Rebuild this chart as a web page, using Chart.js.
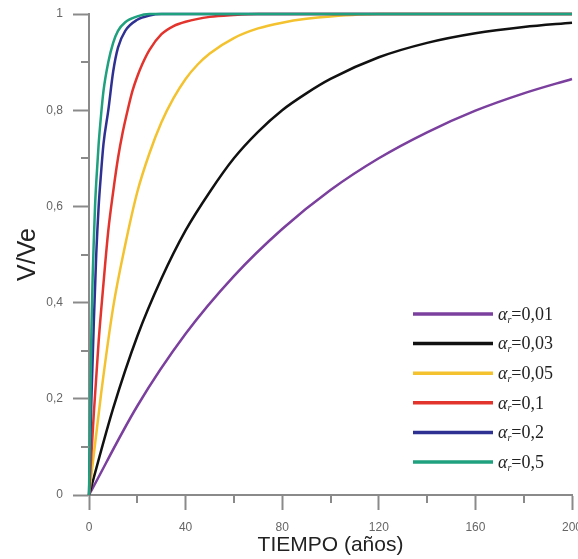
<!DOCTYPE html>
<html>
<head>
<meta charset="utf-8">
<script src="https://cdn.jsdelivr.net/npm/chart.js@4.4.0/dist/chart.umd.min.js"></script>
<style>
  html, body { margin: 0; padding: 0; background: #ffffff; }
  #wrap { width: 578px; height: 559px; position: relative; }
</style>
</head>
<body>
<div id="wrap"><canvas id="c" width="578" height="559"></canvas></div>
<script>
// ---- data ----
const seriesLabels = ['0,01', '0,03', '0,05', '0,1', '0,2', '0,5'];

const tPurple = [0, 20, 40, 60, 80, 100, 120, 140, 160, 180, 200];
const vPurple = [0, 0.185, 0.335, 0.455, 0.553, 0.634, 0.700, 0.754, 0.799, 0.835, 0.865];

const tBlack = [0, 10, 20, 30, 40, 50, 60, 70, 80, 90, 100, 120, 140, 160, 180, 200];
const vBlack = [0, 0.18, 0.33, 0.45, 0.55, 0.63, 0.70, 0.755, 0.80, 0.835, 0.865, 0.91, 0.94, 0.96, 0.973, 0.982];

const tYellow = [0, 5, 10, 15, 20, 25, 30, 35, 40, 45, 50, 60, 70, 80, 90, 100, 120, 200];
const vYellow = [0, 0.21, 0.39, 0.52, 0.63, 0.71, 0.775, 0.825, 0.865, 0.895, 0.918, 0.95, 0.97, 0.982, 0.99, 0.995, 1, 1];

const tRed = [0, 2, 4, 6, 8, 10, 12, 14, 16, 18, 20, 22, 25, 30, 35, 40, 50, 60, 70, 200];
const vRed = [0, 0.17, 0.32, 0.44, 0.55, 0.63, 0.70, 0.755, 0.80, 0.84, 0.87, 0.895, 0.925, 0.958, 0.975, 0.984, 0.994, 0.998, 1, 1];

const tBlue = [0, 1, 2, 3, 4, 5, 6, 8, 10, 12, 15, 20, 25, 30, 200];
const vBlue = [0, 0.2, 0.36, 0.5, 0.6, 0.67, 0.73, 0.80, 0.88, 0.93, 0.965, 0.988, 0.997, 1, 1];

const tGreen = [0, 0.5, 1, 1.5, 2, 2.5, 3, 4, 5, 6, 8, 10, 12, 15, 20, 25, 200];
const vGreen = [0, 0.18, 0.34, 0.45, 0.53, 0.60, 0.65, 0.73, 0.79, 0.84, 0.90, 0.94, 0.965, 0.983, 0.995, 1, 1];

const yTickLabels = ['0', '0,2', '0,4', '0,6', '0,8', '1'];
const xTickLabels = ['0', '40', '80', '120', '160', '200'];

// ---- helpers ----
function pts(t, v) { return t.map((x, i) => ({ x: x, y: v[i] })); }

const colors = ['#7b3f9e', '#111111', '#f3c22e', '#e2342c', '#2e3192', '#1fa07e'];
const seriesT = [tPurple, tBlack, tYellow, tRed, tBlue, tGreen];
const seriesV = [vPurple, vBlack, vYellow, vRed, vBlue, vGreen];

const datasets = seriesT.map((t, i) => ({
  label: 'α_r=' + seriesLabels[i],
  data: pts(t, seriesV[i]),
  borderColor: colors[i],
  backgroundColor: colors[i],
  borderWidth: 2.5,
  pointRadius: 0,
  cubicInterpolationMode: 'monotone',
  fill: false,
  clip: false,
  order: 5 - i
}));

// minor ticks + custom legend
const extras = {
  id: 'extras',
  afterDraw(chart) {
    const ctx = chart.ctx;
    const xs = chart.scales.x, ys = chart.scales.y;
    ctx.save();
    ctx.strokeStyle = '#8a8a8a';
    ctx.lineWidth = 2;
    [0.1, 0.3, 0.5, 0.7, 0.9].forEach(v => {
      const py = Math.round(ys.getPixelForValue(v));
      ctx.beginPath();
      ctx.moveTo(chart.chartArea.left, py);
      ctx.lineTo(chart.chartArea.left - 8, py);
      ctx.stroke();
    });
    [20, 60, 100, 140, 180].forEach(v => {
      const px = Math.round(xs.getPixelForValue(v));
      ctx.beginPath();
      ctx.moveTo(px, chart.chartArea.bottom);
      ctx.lineTo(px, chart.chartArea.bottom + 8);
      ctx.stroke();
    });
    // legend
    const x0 = 413, x1 = 493, yStart = 314, step = 29.6;
    chart.data.datasets.forEach((ds, i) => {
      const y = yStart + i * step;
      ctx.strokeStyle = ds.borderColor;
      ctx.lineWidth = 3.5;
      ctx.beginPath();
      ctx.moveTo(x0, y);
      ctx.lineTo(x1, y);
      ctx.stroke();
      ctx.fillStyle = '#222';
      ctx.textBaseline = 'middle';
      ctx.textAlign = 'left';
      let tx = 498;
      ctx.font = 'italic 18px "Liberation Serif", "Times New Roman", serif';
      ctx.fillText('α', tx, y + 1);
      tx += ctx.measureText('α').width;
      ctx.font = 'italic 10px "Liberation Serif", "Times New Roman", serif';
      ctx.fillText('r', tx, y + 6);
      tx += ctx.measureText('r').width;
      ctx.font = '18px "Liberation Serif", "Times New Roman", serif';
      ctx.fillText('=' + seriesLabels[i], tx, y + 1);
    });
    ctx.restore();
  }
};

const tickFont = { family: '"Liberation Sans", Arial, sans-serif', size: 12 };

new Chart(document.getElementById('c'), {
  type: 'line',
  data: { datasets: datasets },
  options: {
    responsive: false,
    animation: false,
    layout: { padding: { top: 14, right: 6, left: 0, bottom: 0 } },
    plugins: { legend: { display: false }, tooltip: { enabled: false } },
    scales: {
      x: {
        type: 'linear',
        min: 0, max: 200,
        grid: { display: true, drawOnChartArea: false, drawTicks: true, tickLength: 15, tickColor: '#8a8a8a', tickWidth: 2 },
        border: { display: true, color: '#8a8a8a', width: 2 },
        ticks: {
          stepSize: 40, padding: 10, color: '#666', font: tickFont, maxRotation: 0,
          callback: (v) => { const i = Math.round(v / 40); return (Math.abs(v - i * 40) < 1e-6) ? xTickLabels[i] : ''; }
        },
        title: {
          display: true, text: 'TIEMPO (años)', color: '#222',
          font: { family: '"Liberation Sans", Arial, sans-serif', size: 21, lineHeight: 1.2 },
          padding: { top: 0, bottom: 1 }
        },
        afterFit(scale) { scale.height = 64; scale.paddingLeft = 0; scale.paddingRight = 0; }
      },
      y: {
        type: 'linear',
        min: 0, max: 1,
        grid: { display: true, drawOnChartArea: false, drawTicks: true, tickLength: 16, tickColor: '#8a8a8a', tickWidth: 2 },
        border: { display: true, color: '#8a8a8a', width: 2 },
        ticks: {
          stepSize: 0.2, padding: 10, color: '#666', font: tickFont,
          callback: (v) => { const i = Math.round(v / 0.2); return yTickLabels[i]; }
        },
        title: {
          display: true, text: 'V/Ve', color: '#222',
          font: { family: '"Liberation Sans", Arial, sans-serif', size: 25, lineHeight: 1.2 },
          padding: { top: 13, bottom: 0 }
        },
        afterFit(scale) { scale.width = 89; scale.paddingTop = 0; scale.paddingBottom = 0; }
      }
    }
  },
  plugins: [extras]
});
</script>
</body>
</html>
